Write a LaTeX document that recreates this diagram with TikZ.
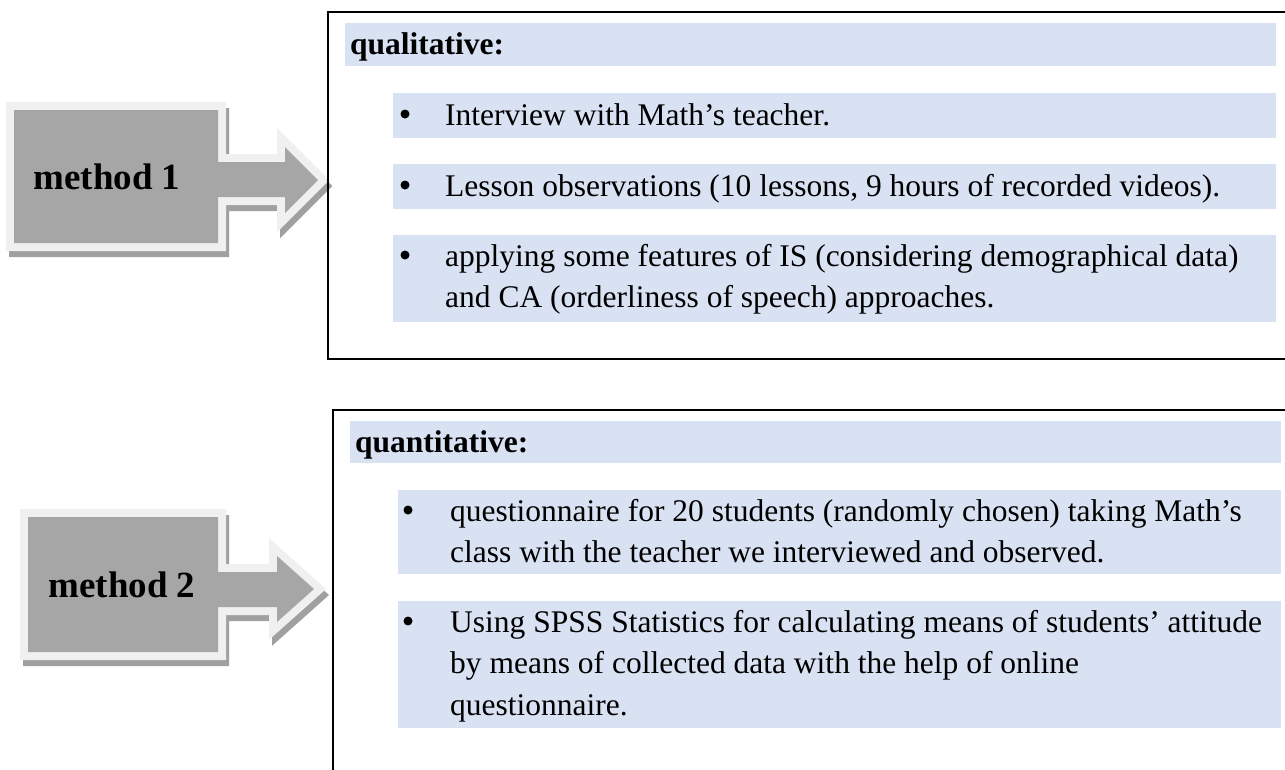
\documentclass[tikz,border=0pt]{standalone}
\usepackage{fontspec}
\setmainfont{Liberation Serif}
\definecolor{bandblue}{HTML}{D9E2F3}
\definecolor{arrowgray}{HTML}{A6A6A6}
\definecolor{framegray}{HTML}{F0F0F0}
\definecolor{shadowgray}{HTML}{A0A0A0}
\begin{document}
\begin{tikzpicture}[x=1pt,y=-1pt,
  band/.style={fill=bandblue},
  body/.style={anchor=base west, inner sep=0pt, font=\fontsize{31.5}{41.7}\selectfont},
  head/.style={body, font=\fontsize{31.5}{41.7}\selectfont\bfseries},
  dot/.style={circle, fill=black, inner sep=0pt, minimum size=9pt},
  mlabel/.style={anchor=base, inner sep=0pt, font=\fontsize{37}{40}\selectfont\bfseries},
  boxline/.style={draw=black, line width=2.2pt},
  shadowpart/.style={draw=shadowgray, fill=shadowgray, line width=16pt, line join=miter},
  framepart/.style={draw=framegray, line width=16pt, line join=miter},
  bodypart/.style={fill=arrowgray}
]
\useasboundingbox (0,0) rectangle (1285,769);
\begin{scope}
\clip (0,0) rectangle (1285,769);

% ---------- method 1 block arrow ----------
\def\shapeA{(14,110) -- (218,110) -- (218,162) -- (285,162) -- (285,147) -- (318,180) -- (285,213) -- (285,197) -- (218,197) -- (218,243) -- (14,243) -- cycle}
\path[shadowpart, shift={(3,6)}] \shapeA;
\path[framepart] \shapeA;
\path[bodypart] \shapeA;
\node[mlabel] (m1) at (107,189) {method 1};

% ---------- method 2 block arrow ----------
\def\shapeB{(28,517) -- (218,517) -- (218,572) -- (277,572) -- (277,556) -- (314,589) -- (277,622) -- (277,607) -- (218,607) -- (218,652) -- (28,652) -- cycle}
\path[shadowpart, shift={(3,6)}] \shapeB;
\path[framepart] \shapeB;
\path[bodypart] \shapeB;
\node[mlabel] (m2) at (122,597) {method 2};

% ---------- qualitative box ----------
\draw[boxline] (328,12) rectangle (1310,359);
\fill[band] (345,23) rectangle (1276,66);
\fill[band] (393,93) rectangle (1276,138);
\fill[band] (393,164) rectangle (1276,209);
\fill[band] (393,235) rectangle (1276,322);
\node[head] (qual) at (350,54) {qualitative:};
\node[dot] (qd1) at (405,114) {};
\node[body] (q1) at (445,125) {Interview with Math’s teacher.};
\node[dot] (qd2) at (405,185) {};
\node[body] (q2) at (445,196) {Lesson observations (10 lessons, 9 hours of recorded videos).};
\node[dot] (qd3) at (405,255) {};
\node[body] (q3) at (445,266) {\begin{tabular}[t]{@{}l@{}}applying some features of IS (considering demographical data)\\and CA (orderliness of speech) approaches.\end{tabular}};

% ---------- quantitative box ----------
\draw[boxline] (333,410) rectangle (1310,800);
\fill[band] (350,421) rectangle (1281,463);
\fill[band] (398,490) rectangle (1281,574);
\fill[band] (398,601) rectangle (1281,728);
\node[head] (quan) at (355,452) {quantitative:};
\node[dot] (nd1) at (408,510) {};
\node[body] (n1) at (450,521) {\begin{tabular}[t]{@{}l@{}}questionnaire for 20 students (randomly chosen) taking Math’s\\class with the teacher we interviewed and observed.\end{tabular}};
\node[dot] (nd2) at (408,621) {};
\node[body] (n2) at (450,632) {\begin{tabular}[t]{@{}l@{}}Using SPSS Statistics for calculating means of students’ attitude\\by means of collected data with the help of online\\questionnaire.\end{tabular}};
\end{scope}
\end{tikzpicture}
\end{document}
